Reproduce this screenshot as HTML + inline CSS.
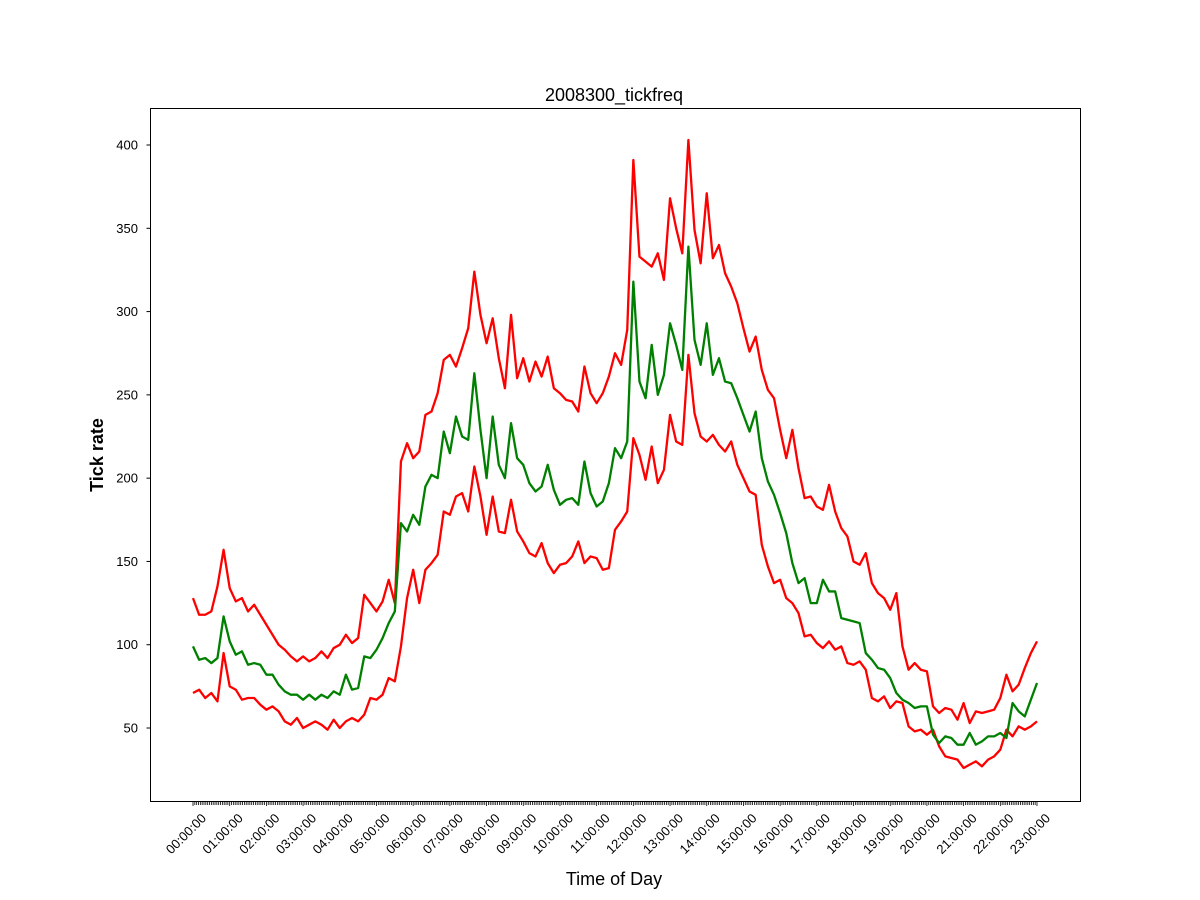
<!DOCTYPE html>
<html><head><meta charset="utf-8"><style>
body{margin:0;background:#fff;}
svg{display:block;font-family:"Liberation Sans","DejaVu Sans",sans-serif;}
</style></head><body>
<svg id="chart" width="1200" height="900" viewBox="0 0 1200 900" xmlns="http://www.w3.org/2000/svg">
<rect width="1200" height="900" fill="#fff"/>
<text x="614" y="101" font-size="18" text-anchor="middle">2008300_tickfreq</text>
<text transform="translate(103,455) rotate(-90)" font-size="18" font-weight="bold" text-anchor="middle">Tick rate</text>
<text x="614" y="885" font-size="18" text-anchor="middle">Time of Day</text>
<g id="grid"></g>
<g id="series"></g>
<rect x="150.5" y="108.5" width="930" height="693" fill="none" stroke="#000" stroke-width="1"/>
<g id="axes"></g>
</svg>
<script>
const hourLabels = ["00:00:00","01:00:00","02:00:00","03:00:00","04:00:00","05:00:00","06:00:00","07:00:00","08:00:00","09:00:00","10:00:00","11:00:00","12:00:00","13:00:00","14:00:00","15:00:00","16:00:00","17:00:00","18:00:00","19:00:00","20:00:00","21:00:00","22:00:00","23:00:00"];
const yTicks = [50,100,150,200,250,300,350,400];
const stepMinutes = 10;
const upperBand = [128,118,118,120,135,157, 134,126,128,120,124,118, 112,106,100,97,93,90, 93,90,92,96,92,98, 100,106,101,104,130,125, 120,126,139,125,210,221, 212,216,238,240,251,271, 274,267,278,290,324,298, 281,296,272,254,298,260, 272,258,270,261,273,254, 251,247,246,240,267,251, 245,251,261,275,268,289, 391,333,330,327,335,319, 368,350,335,403,349,329, 371,332,340,323,315,305, 290,276,285,265,253,248, 229,212,229,206,188,189, 183,181,196,180,170,165, 150,148,155,137,131,128, 121,131,99,85,89,85, 84,63,59,62,61,55, 65,53,60,59,60,61, 68,82,72,76,86,95, 102];
const meanRate = [99,91,92,89,92,117, 102,94,96,88,89,88, 82,82,76,72,70,70, 67,70,67,70,68,72, 70,82,73,74,93,92, 97,104,113,120,173,168, 178,172,195,202,200,228, 215,237,225,223,263,229, 200,237,208,200,233,212, 208,197,192,195,208,193, 184,187,188,184,210,191, 183,186,197,218,212,222, 318,258,248,280,250,262, 293,280,265,339,283,268, 293,262,272,258,257,248, 238,228,240,212,198,190, 179,167,149,137,140,125, 125,139,132,132,116,115, 114,113,95,91,86,85, 80,71,67,65,62,63, 63,46,41,45,44,40, 40,47,40,42,45,45, 47,44,65,60,57,67, 77];
const lowerBand = [71,73,68,71,66,95, 75,73,67,68,68,64, 61,63,60,54,52,56, 50,52,54,52,49,55, 50,54,56,54,58,68, 67,70,80,78,99,128, 145,125,145,149,154,180, 178,189,191,180,207,189, 166,189,168,167,187,168, 162,155,153,161,149,143, 148,149,153,162,149,153, 152,145,146,169,174,180, 224,214,199,219,197,205, 238,222,220,274,239,225, 222,226,220,216,222,208, 200,192,190,160,147,137, 139,128,125,119,105,106, 101,98,102,97,99,89, 88,90,85,68,66,69, 62,66,65,51,48,49, 46,49,39,33,32,31, 26,28,30,27,31,33, 37,49,45,51,49,51, 54];

const NS="http://www.w3.org/2000/svg";
const xOfMin = m => 193 + m*(1037-193)/(23*60);
const yOf = v => 811.3 - v*(583/350);
const axes=document.getElementById('axes');
const seriesG=document.getElementById('series');
function mk(tag,attrs,parent){const e=document.createElementNS(NS,tag);for(const k in attrs)e.setAttribute(k,attrs[k]);parent.appendChild(e);return e;}

yTicks.forEach(v=>{
  const y=yOf(v);
  const t=mk('line',{x1:146.5,x2:150.5,y1:y,y2:y,stroke:'#000','stroke-width':1},axes);
  
  
  const l=mk('text',{x:138,y:y+4.5,'font-size':13,'text-anchor':'end'},axes);
  
  
  l.textContent=v;
});
for(let m=0;m<=23*60;m+=3){
  const x=xOfMin(m);
  const major = m%60===0;
  const t=mk('line',{x1:x,x2:x,y1:801.5,y2:major?806:805,stroke:'#000','stroke-width':0.8},axes);
  
  
}
hourLabels.forEach((s,i)=>{
  const x=xOfMin(i*60);
  const l=mk('text',{transform:`translate(${x+14},819) rotate(-45)`,'font-size':13,'text-anchor':'end'},axes);
  
  
  l.textContent=s;
});
function drawLine(arr,color,name){
  const pts=arr.map((v,i)=>`${xOfMin(i*stepMinutes).toFixed(2)},${yOf(v).toFixed(2)}`).join(' ');
  const p=mk('polyline',{points:pts,fill:'none',stroke:color,'stroke-width':2.3,'stroke-linejoin':'round'},seriesG);
  
  
}
drawLine(upperBand,'#ff0000','upper-band-line');
drawLine(lowerBand,'#ff0000','lower-band-line');
drawLine(meanRate,'#008000','mean-rate-line');
</script>
</body></html>
